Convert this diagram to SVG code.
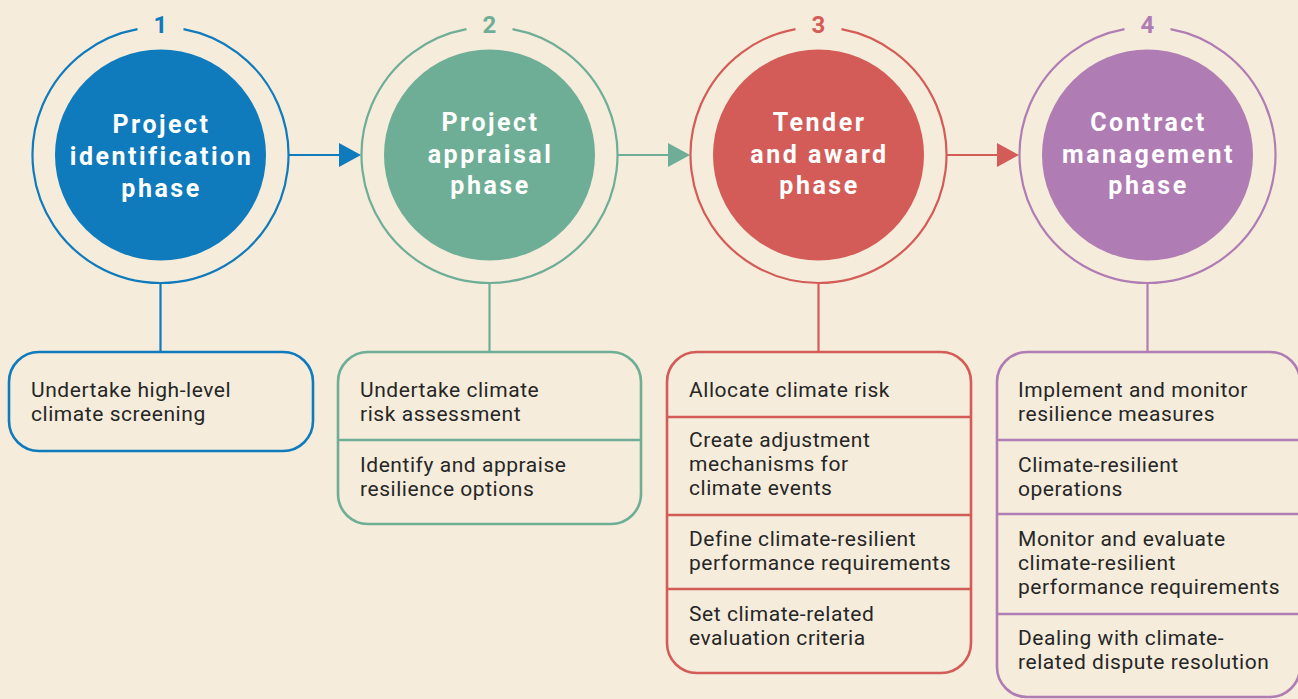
<svg xmlns="http://www.w3.org/2000/svg" width="1298" height="699" viewBox="0 0 1298 699">
<style>
.ring{fill:none;stroke-width:2.2}
.num{font-family:Roboto,"Liberation Sans",sans-serif;font-weight:700;font-size:24px;text-anchor:middle}
.ct{font-family:Roboto,"Liberation Sans",sans-serif;font-weight:700;font-size:25px;fill:#ffffff;text-anchor:middle;letter-spacing:2.5px}
.box{fill:none;stroke-width:2.6}
.div{stroke-width:2.6}
.bt{font-family:Roboto,"Liberation Sans",sans-serif;font-size:21px;fill:#262626;letter-spacing:0.55px}
.ln{fill:none;stroke-width:2.2}
.blue{stroke:#0f7bbd}
.green{stroke:#6fae96}
.red{stroke:#d45c58}
.purple{stroke:#b07cb4}
</style>
<defs>
<marker id="ah-blue" viewBox="0 0 22 24" markerWidth="22" markerHeight="24" refX="11" refY="12" markerUnits="userSpaceOnUse" orient="auto"><path d="M0,0 L22,12 L0,24 Z" fill="#0f7bbd"/></marker>
<marker id="ah-green" viewBox="0 0 22 24" markerWidth="22" markerHeight="24" refX="11" refY="12" markerUnits="userSpaceOnUse" orient="auto"><path d="M0,0 L22,12 L0,24 Z" fill="#6fae96"/></marker>
<marker id="ah-red" viewBox="0 0 22 24" markerWidth="22" markerHeight="24" refX="11" refY="12" markerUnits="userSpaceOnUse" orient="auto"><path d="M0,0 L22,12 L0,24 Z" fill="#d45c58"/></marker>
</defs>
<rect x="0" y="0" width="1298" height="699" fill="#f5ecdb"/>

<g id="connectors">
<line class="ln blue" x1="288" y1="155" x2="350" y2="155" marker-end="url(#ah-blue)"/>
<line class="ln green" x1="617" y1="155" x2="679" y2="155" marker-end="url(#ah-green)"/>
<line class="ln red" x1="946" y1="155" x2="1008" y2="155" marker-end="url(#ah-red)"/>
<line class="ln blue" x1="160.5" y1="283" x2="160.5" y2="352"/>
<line class="ln green" x1="489.5" y1="283" x2="489.5" y2="352"/>
<line class="ln red" x1="818.5" y1="283" x2="818.5" y2="352"/>
<line class="ln purple" x1="1147.5" y1="283" x2="1147.5" y2="352"/>
</g>

<g id="phase1">
<path class="ring blue" d="M137.5,29.1 A128,128 0 1 0 183.5,29.1"/>
<text class="num" x="160.5" y="33" fill="#0f7bbd">1</text>
<circle cx="160.5" cy="155" r="105.5" fill="#0f7bbd"/>
<text class="ct" x="161.5" y="133">Project</text>
<text class="ct" x="161.5" y="165">identification</text>
<text class="ct" x="161.5" y="197">phase</text>
</g>

<g id="phase2">
<path class="ring green" d="M466.5,29.1 A128,128 0 1 0 512.5,29.1"/>
<text class="num" x="489.5" y="33" fill="#6fae96">2</text>
<circle cx="489.5" cy="155" r="105.5" fill="#6fae96"/>
<text class="ct" x="490.5" y="131">Project</text>
<text class="ct" x="490.5" y="163">appraisal</text>
<text class="ct" x="490.5" y="194">phase</text>
</g>

<g id="phase3">
<path class="ring red" d="M795.5,29.1 A128,128 0 1 0 841.5,29.1"/>
<text class="num" x="818.5" y="33" fill="#d45c58">3</text>
<circle cx="818.5" cy="155" r="105.5" fill="#d45c58"/>
<text class="ct" x="819.5" y="131">Tender</text>
<text class="ct" x="819.5" y="163">and award</text>
<text class="ct" x="819.5" y="194">phase</text>
</g>

<g id="phase4">
<path class="ring purple" d="M1124.5,29.1 A128,128 0 1 0 1170.5,29.1"/>
<text class="num" x="1147.5" y="33" fill="#b07cb4">4</text>
<circle cx="1147.5" cy="155" r="105.5" fill="#b07cb4"/>
<text class="ct" x="1148.5" y="131">Contract</text>
<text class="ct" x="1148.5" y="163">management</text>
<text class="ct" x="1148.5" y="194">phase</text>
</g>

<g id="box1">
<rect class="box blue" x="9" y="352" width="304" height="99" rx="30"/>
<text class="bt" x="31" y="397">Undertake high-level</text>
<text class="bt" x="31" y="421">climate screening</text>
</g>

<g id="box2">
<rect class="box green" x="338" y="352" width="303" height="172" rx="30"/>
<line class="div green" x1="338" y1="440" x2="641" y2="440"/>
<text class="bt" x="360" y="397">Undertake climate</text>
<text class="bt" x="360" y="421">risk assessment</text>
<text class="bt" x="360" y="472">Identify and appraise</text>
<text class="bt" x="360" y="496">resilience options</text>
</g>

<g id="box3">
<rect class="box red" x="667" y="352" width="304" height="321" rx="30"/>
<line class="div red" x1="667" y1="417" x2="971" y2="417"/>
<line class="div red" x1="667" y1="515" x2="971" y2="515"/>
<line class="div red" x1="667" y1="589" x2="971" y2="589"/>
<text class="bt" x="689" y="397">Allocate climate risk</text>
<text class="bt" x="689" y="447">Create adjustment</text>
<text class="bt" x="689" y="471">mechanisms for</text>
<text class="bt" x="689" y="495">climate events</text>
<text class="bt" x="689" y="546">Define climate-resilient</text>
<text class="bt" x="689" y="570">performance requirements</text>
<text class="bt" x="689" y="621">Set climate-related</text>
<text class="bt" x="689" y="645">evaluation criteria</text>
</g>

<g id="box4">
<rect class="box purple" x="997" y="352" width="303" height="345" rx="30"/>
<line class="div purple" x1="997" y1="440" x2="1298" y2="440"/>
<line class="div purple" x1="997" y1="514" x2="1298" y2="514"/>
<line class="div purple" x1="997" y1="614" x2="1298" y2="614"/>
<text class="bt" x="1018" y="397">Implement and monitor</text>
<text class="bt" x="1018" y="421">resilience measures</text>
<text class="bt" x="1018" y="472">Climate-resilient</text>
<text class="bt" x="1018" y="496">operations</text>
<text class="bt" x="1018" y="546">Monitor and evaluate</text>
<text class="bt" x="1018" y="570">climate-resilient</text>
<text class="bt" x="1018" y="594">performance requirements</text>
<text class="bt" x="1018" y="645">Dealing with climate-</text>
<text class="bt" x="1018" y="669">related dispute resolution</text>
</g>
</svg>
